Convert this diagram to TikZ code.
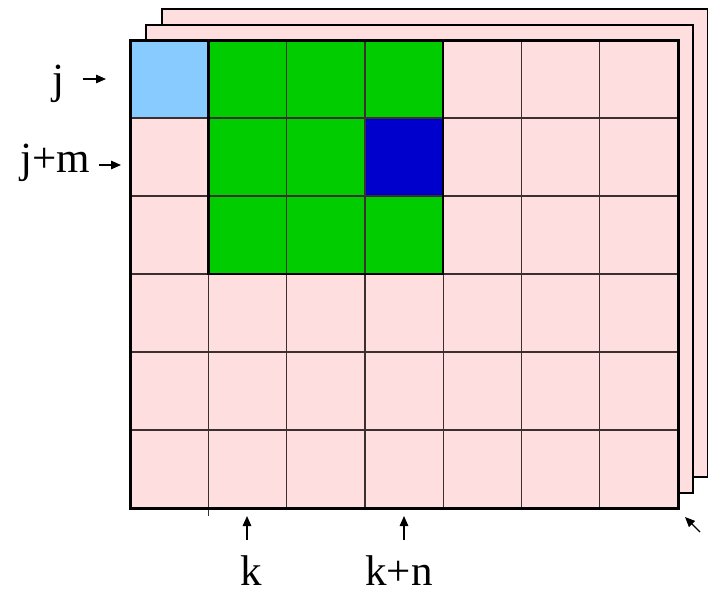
\documentclass[tikz,border=0pt]{standalone}
\usepackage{fontspec}
\setmainfont{Liberation Serif}
\usetikzlibrary{arrows.meta}
\definecolor{pinkc}{HTML}{FFDEE0}
\definecolor{greenc}{HTML}{00CC00}
\definecolor{bluec}{HTML}{0000CC}
\definecolor{lblue}{HTML}{88CCFF}
\definecolor{gridc}{HTML}{3A3030}
\begin{document}
\begin{tikzpicture}[x=1pt,y=-1pt,
  lbl/.style={font=\fontsize{43}{43}\selectfont, inner sep=0pt, anchor=base},
  ptr/.style={-{Triangle[length=10pt,width=8.5pt]}, line width=1.3pt},
  layer/.style={fill=pinkc, draw=black, line width=1.6pt},
  gridline/.style={draw=gridc, line width=1.3pt}]
\useasboundingbox (0,0) rectangle (709,590);
% back layers
\draw[layer] (162,9) rectangle (707.5,477);
\draw[layer] (146,25) rectangle (693,493);
% main layer
\fill[pinkc] (130,40) rectangle (678,508);
\fill[lblue] (130,40) rectangle (208.3,118);
\fill[greenc] (208.3,40) rectangle (443,274);
\fill[bluec] (364.9,118) rectangle (443,196);
\foreach \i in {1,...,6}
  \draw[gridline] (130+\i*78.286,40) -- (130+\i*78.286,508);
\draw[gridline] (208.3,508) -- (208.3,516);
\foreach \j in {1,...,5}
  \draw[gridline] (130,40+\j*78) -- (678,40+\j*78);
\draw[line width=2.5pt] (208.3,40) rectangle (443,274);
\draw[line width=3pt] (130,40) rectangle (678,508);
% labels
\node[lbl] (j) at (58,93) {j};
\node[lbl] (jm) at (55,172) {j+m};
\node[lbl] (k) at (251,585) {k};
\node[lbl] (kn) at (399,585) {k+n};
\coordinate (j0) at (83,79);   \coordinate (j1) at (106,79);
\coordinate (m0) at (99,165);  \coordinate (m1) at (121,165);
\coordinate (k0) at (247,540); \coordinate (k1) at (247,516);
\coordinate (n0) at (404,540); \coordinate (n1) at (404,516);
\coordinate (c0) at (700,532); \coordinate (c1) at (685,517);
\draw[ptr] (j0) -- (j1);
\draw[ptr] (m0) -- (m1);
\draw[ptr] (k0) -- (k1);
\draw[ptr] (n0) -- (n1);
\draw[ptr] (c0) -- (c1);
\end{tikzpicture}
\end{document}
